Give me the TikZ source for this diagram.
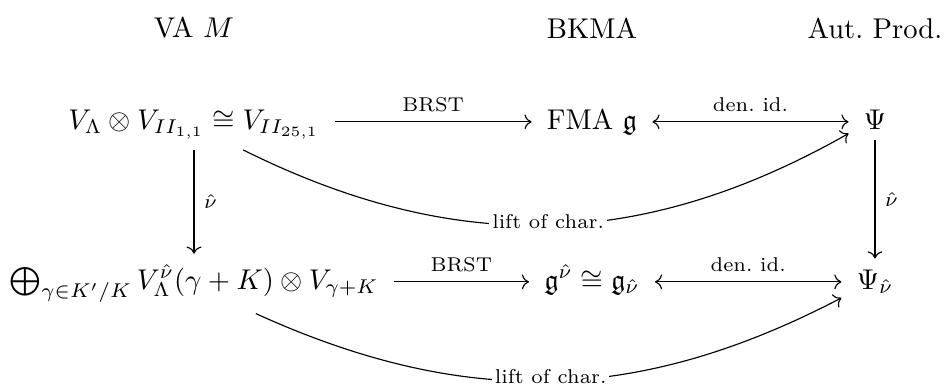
\documentclass[tikz,border=0pt]{standalone}
\usepackage{amsmath}
\usepackage{amssymb}
\usepackage{tikz}
\usetikzlibrary{arrows.meta}

\begin{document}
\begin{tikzpicture}[x=0.35pt, y=-0.35pt, % one unit is one pixel of the layout, y downwards
    cell/.style={anchor=base, inner xsep=1.2ex, inner ysep=0.85ex},
    maplabel/.style={font=\scriptsize},
    liftlabel/.style={font=\scriptsize, fill=white, inner sep=1pt, anchor=base, yshift=-1pt}]

    % Frame of the whole picture
    \useasboundingbox (0,0) rectangle (946,392);

    % Column headings
    \node (headVA) at (194,28) {VA $M$};
    \node (headBK) at (592,28) {BKMA};
    \node (headAP) at (875,28) {Aut.\ Prod.};

    % Upper row (baselines at y=129)
    \node[cell] (latt) at (194,129) {$V_\Lambda\otimes V_{II_{1,1}}\cong V_{II_{25,1}}$};
    \node[cell] (fma) at (592,129) {FMA $\mathfrak{g}$};
    \node[cell] (psi) at (875,129) {$\Psi$};

    % Lower row (baselines at y=289)
    \node[cell] (orbi) at (194,289) {$\bigoplus_{\gamma\in K'/K} V_\Lambda^{\hat\nu}(\gamma+K)\otimes V_{\gamma+K}$};
    \node[cell] (twist) at (592,289) {$\mathfrak{g}^{\hat\nu}\cong\mathfrak{g}_{\hat\nu}$};
    \node[cell] (psinu) at (875,289) {$\Psi_{\hat\nu}$};

    % Math axis of each row, for the horizontal maps
    \coordinate (axisT) at ([yshift=2.5pt]latt.base);
    \coordinate (axisB) at ([yshift=2.5pt]orbi.base);

    % Horizontal maps
    \draw[->] (latt.east |- axisT) -- node[maplabel, above] {BRST} (fma.west |- axisT);
    \draw[<->] (fma.east |- axisT) -- node[maplabel, above] {den.\ id.} (psi.west |- axisT);
    \draw[->] (orbi.east |- axisB) -- node[maplabel, above] {BRST} (twist.west |- axisB);
    \draw[<->] (twist.east |- axisB) -- node[maplabel, above] {den.\ id.} (psinu.west |- axisB);

    % Vertical maps
    \draw[->] (latt) -- node[maplabel, right] {$\hat\nu$} (orbi);
    \draw[->] (psi) -- node[maplabel, right] {$\hat\nu$} (psinu);

    % Lifts of characters
    \draw[->] (latt) to[bend right=28] node[liftlabel, midway] {lift of char.} (psi);
    \draw[->] (orbi) to[bend right=26] node[liftlabel, midway] {lift of char.} (psinu);

\end{tikzpicture}
\end{document}
